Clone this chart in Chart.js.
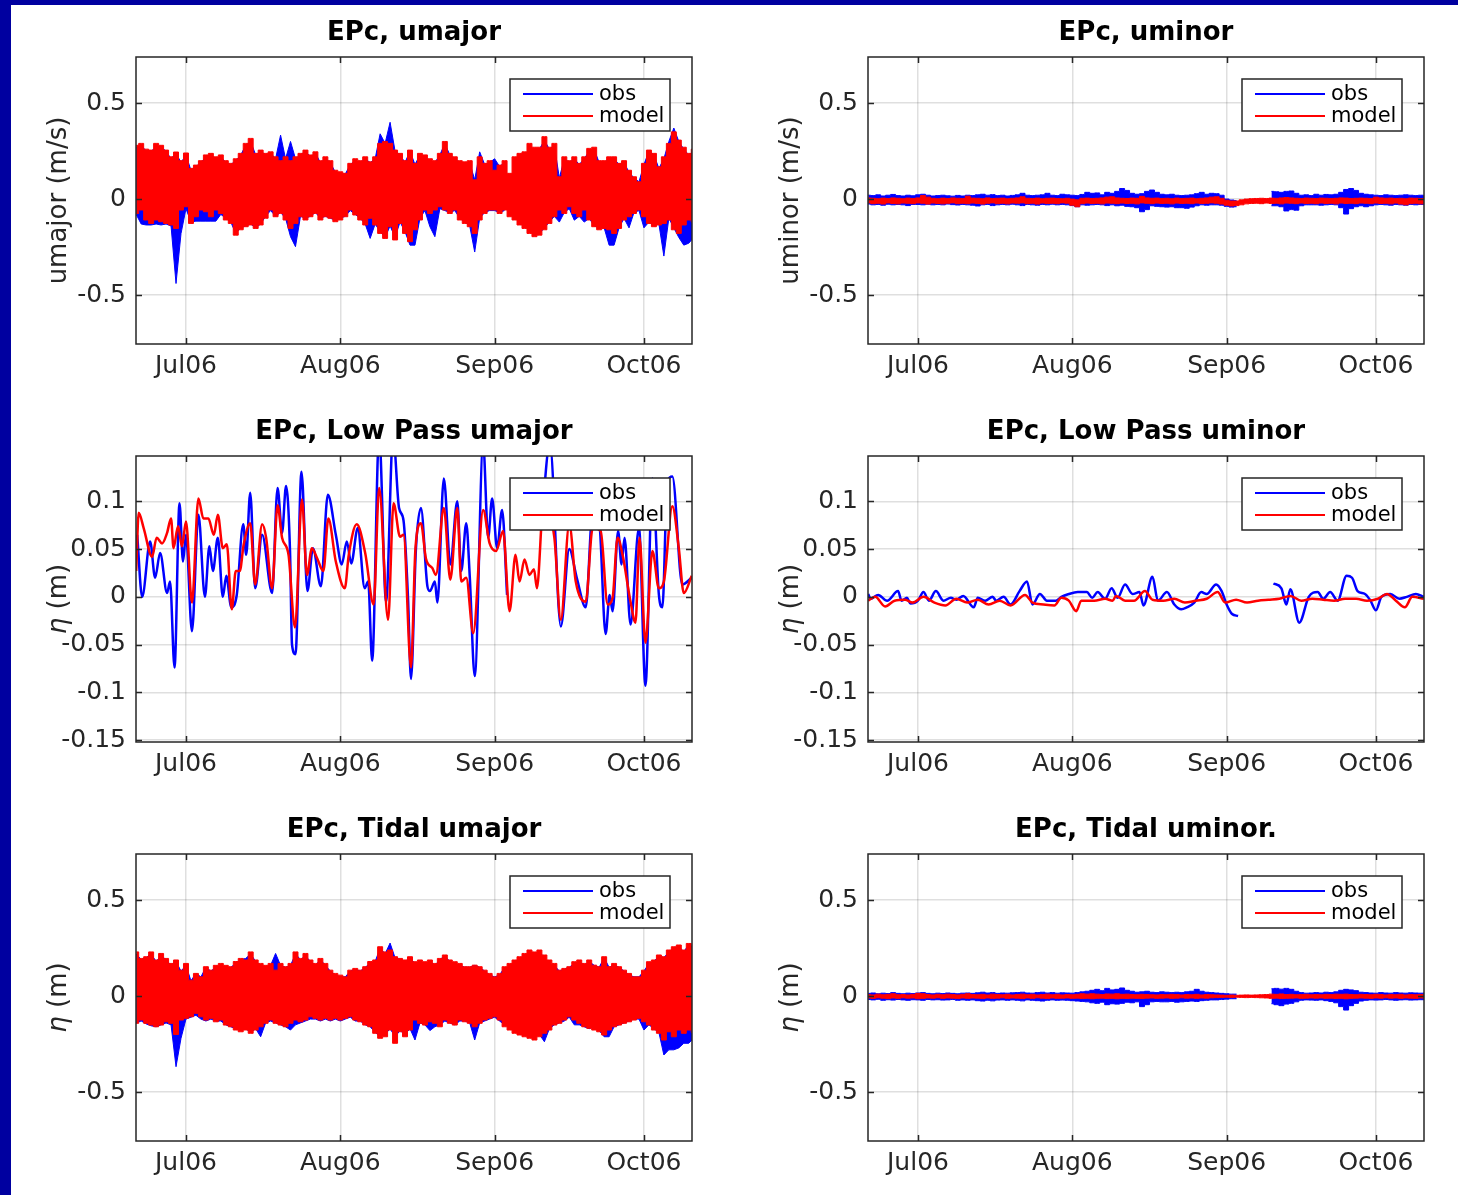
<!DOCTYPE html>
<html>
<head>
<meta charset="utf-8">
<script src="https://cdn.jsdelivr.net/npm/chart.js@4.4.1/dist/chart.umd.min.js"></script>
<style>
  body { margin: 0; width: 1458px; height: 1195px; background: #fff; position: relative; overflow: hidden; }
  .edge { position: absolute; background: #0000a0; }
  canvas { position: absolute; }
</style>
</head>
<body>
<div class="edge" style="left:0;top:0;width:11px;height:1195px"></div>
<div class="edge" style="left:0;top:0;width:1458px;height:5px"></div>
<script>
// ---- time axis: days from 1 Jul 2006 ----
const days = [];
for (let d = -10; d <= 102; d++) days.push(d);
const monthTicks = [0, 31, 62, 92];
const monthLabels = ['Jul06', 'Aug06', 'Sep06', 'Oct06'];

const wideTicks = [-0.5, 0, 0.5];
const lowPassTicks = [-0.15, -0.1, -0.05, 0, 0.05, 0.1];

// ---- EPc umajor (raw): daily upper / lower envelope of the tidal band ----
const umajModelHi = [
  0.28, 0.29, 0.26, 0.255, 0.29, 0.28, 0.255, 0.22, 0.245, 0.2,
  0.24, 0.16, 0.177, 0.2, 0.23, 0.238, 0.22, 0.23, 0.2, 0.186,
  0.21, 0.238, 0.29, 0.316, 0.238, 0.255, 0.238, 0.246, 0.22, 0.2,
  0.22, 0.2, 0.22, 0.238, 0.255, 0.23, 0.246, 0.2, 0.22, 0.2,
  0.15, 0.142, 0.134, 0.186, 0.21, 0.2, 0.22, 0.194, 0.22, 0.29,
  0.3, 0.29, 0.255, 0.238, 0.2, 0.255, 0.186, 0.238, 0.23, 0.21,
  0.2, 0.238, 0.3, 0.238, 0.22, 0.2, 0.194, 0.2, 0.1, 0.22,
  0.186, 0.2, 0.15, 0.177, 0.2, 0.134, 0.22, 0.238, 0.246, 0.29,
  0.27, 0.27, 0.325, 0.27, 0.29, 0.116, 0.22, 0.2, 0.22, 0.186,
  0.22, 0.264, 0.27, 0.2, 0.2, 0.22, 0.22, 0.186, 0.2, 0.15,
  0.116, 0.09, 0.186, 0.255, 0.238, 0.168, 0.22, 0.29, 0.35, 0.307,
  0.27, 0.238, 0.26
];
const umajModelLo = [
  -0.075, -0.057, -0.109, -0.127, -0.109, -0.118, -0.127, -0.135, -0.153, -0.057,
  -0.04, -0.127, -0.092, -0.057, -0.066, -0.092, -0.057, -0.075, -0.109, -0.127,
  -0.188, -0.16, -0.144, -0.135, -0.153, -0.135, -0.1, -0.057, -0.092, -0.075,
  -0.109, -0.153, -0.127, -0.092, -0.109, -0.092, -0.075, -0.109, -0.092, -0.1,
  -0.118, -0.109, -0.092, -0.057, -0.083, -0.109, -0.135, -0.1, -0.135, -0.179,
  -0.205, -0.144, -0.213, -0.127, -0.179, -0.222, -0.16, -0.109, -0.057, -0.075,
  -0.057, -0.04, -0.057, -0.075, -0.057, -0.109, -0.127, -0.144, -0.179, -0.109,
  -0.075, -0.057, -0.057, -0.075, -0.057, -0.092, -0.109, -0.135, -0.153, -0.179,
  -0.196, -0.188, -0.16, -0.127, -0.092, -0.057, -0.075, -0.04, -0.075, -0.092,
  -0.057, -0.109, -0.144, -0.16, -0.153, -0.16, -0.179, -0.153, -0.109, -0.092,
  -0.075, -0.057, -0.092, -0.127, -0.144, -0.135, -0.127, -0.109, -0.16, -0.179,
  -0.135, -0.109, -0.12
];
const umajObsHi = [
  0.27, 0.28, 0.25, 0.25, 0.27, 0.27, 0.25, 0.21, 0.24, 0.19,
  0.23, 0.15, 0.17, 0.19, 0.22, 0.23, 0.21, 0.22, 0.19, 0.18,
  0.2, 0.23, 0.28, 0.3, 0.23, 0.25, 0.23, 0.24, 0.21, 0.333,
  0.21, 0.3, 0.21, 0.23, 0.25, 0.22, 0.24, 0.19, 0.21, 0.19,
  0.14, 0.13, 0.13, 0.18, 0.2, 0.19, 0.21, 0.19, 0.21, 0.34,
  0.29, 0.40, 0.25, 0.23, 0.19, 0.25, 0.18, 0.23, 0.22, 0.2,
  0.19, 0.23, 0.29, 0.23, 0.21, 0.19, 0.19, 0.19, 0.1, 0.246,
  0.18, 0.19, 0.21, 0.17, 0.19, null, null, null, null, null,
  null, 0.26, 0.307, 0.26, 0.28, 0.11, 0.21, 0.19, 0.21, 0.18,
  0.21, 0.25, 0.26, 0.19, 0.19, 0.21, 0.21, 0.18, 0.19, 0.14,
  0.11, 0.09, 0.18, 0.25, 0.23, 0.16, 0.21, 0.3, 0.37, 0.3,
  0.26, 0.23, 0.25
];
const umajObsLo = [
  -0.08, -0.13, -0.135, -0.135, -0.13, -0.135, -0.13, -0.14, -0.44, -0.18,
  -0.05, -0.12, -0.115, -0.115, -0.115, -0.115, -0.115, -0.08, -0.1, -0.12,
  -0.18, -0.15, -0.14, -0.13, -0.15, -0.13, -0.09, -0.06, -0.09, -0.07,
  -0.1, -0.196, -0.248, -0.09, -0.1, -0.09, -0.07, -0.1, -0.09, -0.1,
  -0.11, -0.1, -0.09, -0.06, -0.08, -0.1, -0.13, -0.205, -0.13, -0.17,
  -0.2, -0.14, -0.2, -0.12, -0.17, -0.24, -0.24, -0.1, -0.06, -0.144,
  -0.196, -0.05, -0.06, -0.07, -0.06, -0.1, -0.12, -0.14, -0.276, -0.1,
  -0.07, -0.06, -0.06, -0.07, -0.06, null, null, null, null, null,
  null, -0.18, -0.15, -0.12, -0.09, -0.12, -0.07, -0.05, -0.11, -0.09,
  -0.12, -0.1, -0.14, -0.15, -0.15, -0.24, -0.24, -0.15, -0.1, -0.15,
  -0.07, -0.06, -0.15, -0.12, -0.14, -0.13, -0.297, -0.1, -0.15, -0.2,
  -0.24, -0.23, -0.2
];

// ---- EPc uminor (raw) ----
const uminModelHi = [
  0.006, 0.004, 0.002, 0.005, 0.003, 0.006, 0.004, 0.002, 0.005, 0.003,
  0.006, 0.018, 0.01, 0.004, 0.002, 0.005, 0.003, 0.006, 0.004, 0.003,
  0.015, 0.005, 0.004, 0.002, 0.006, 0.003, 0.004, 0.005, 0.002, 0.004,
  0.006, 0.012, 0.004, 0.003, 0.005, 0.002, 0.004, 0.005, 0.003, 0.002,
  0.004, 0.0, -0.004, 0.004, 0.005, 0.003, 0.004, 0.006, 0.01, 0.012,
  0.006, 0.004, 0.003, 0.005, 0.004, 0.014, 0.006, 0.004, 0.005, 0.003,
  0.004, 0.002, 0.005, 0.003, 0.004, 0.005, 0.002, 0.004, 0.006, 0.01,
  0.012, 0.004, -0.006, -0.01, -0.01, -0.004, 0.0, 0.002, 0.003, 0.004,
  0.003, 0.005, 0.004, 0.006, 0.008, 0.006, 0.004, 0.003, 0.005, 0.004,
  0.003, 0.005, 0.004, 0.003, 0.004, 0.006, 0.005, 0.003, 0.004, 0.005,
  0.004, 0.003, 0.01, 0.006, 0.004, 0.005, 0.003, 0.004, 0.002, 0.005,
  0.004, 0.003, 0.004
];
const uminModelLo = [
  -0.02, -0.024, -0.022, -0.026, -0.02, -0.023, -0.025, -0.021, -0.022, -0.024,
  -0.02, -0.022, -0.026, -0.021, -0.023, -0.025, -0.022, -0.02, -0.024, -0.022,
  -0.024, -0.021, -0.023, -0.026, -0.022, -0.02, -0.024, -0.022, -0.025, -0.021,
  -0.022, -0.02, -0.024, -0.022, -0.026, -0.021, -0.023, -0.022, -0.024, -0.02,
  -0.022, -0.032, -0.04, -0.024, -0.021, -0.023, -0.022, -0.025, -0.021, -0.022,
  -0.024, -0.021, -0.023, -0.022, -0.025, -0.02, -0.022, -0.024, -0.021, -0.023,
  -0.022, -0.025, -0.021, -0.023, -0.022, -0.024, -0.021, -0.023, -0.022, -0.02,
  -0.022, -0.026, -0.032, -0.036, -0.034, -0.03, -0.025, -0.023, -0.022, -0.024,
  -0.021, -0.023, -0.022, -0.025, -0.021, -0.022, -0.024, -0.021, -0.023, -0.022,
  -0.024, -0.021, -0.023, -0.022, -0.025, -0.021, -0.023, -0.022, -0.024, -0.021,
  -0.022, -0.024, -0.021, -0.023, -0.022, -0.025, -0.021, -0.026, -0.03, -0.024,
  -0.022, -0.025, -0.023
];
const uminObsHi = [
  0.02, 0.018, 0.022, 0.016, 0.02, 0.024, 0.018, 0.016, 0.02, 0.017,
  0.022, 0.025, 0.02, 0.016, 0.018, 0.02, 0.017, 0.015, 0.019, 0.016,
  0.02, 0.018, 0.022, 0.025, 0.02, 0.023, 0.018, 0.02, 0.016, 0.019,
  0.022, 0.03, 0.02, 0.018, 0.02, 0.022, 0.03, 0.02, 0.018, 0.025,
  0.022, 0.02, 0.018, 0.024, 0.035, 0.03, 0.032, 0.022, 0.035, 0.03,
  0.04, 0.055, 0.045, 0.03, 0.025, 0.028, 0.04, 0.047, 0.035, 0.025,
  0.022, 0.025, 0.02, 0.018, 0.02, 0.022, 0.028, 0.035, 0.025, 0.03,
  0.028, 0.02, 0.0, -0.005, -0.008, null, null, null, null, null,
  null, 0.04, 0.038, 0.035, 0.04, 0.042, 0.03, 0.02, 0.022, 0.018,
  0.025, 0.02, 0.024, 0.022, 0.025, 0.035, 0.05, 0.055, 0.045, 0.03,
  0.025, 0.022, 0.02, 0.018, 0.022, 0.02, 0.018, 0.02, 0.022, 0.02,
  0.018, 0.02, 0.019
];
const uminObsLo = [
  -0.026, -0.03, -0.028, -0.032, -0.027, -0.03, -0.028, -0.03, -0.034, -0.028,
  -0.028, -0.03, -0.027, -0.03, -0.028, -0.03, -0.026, -0.029, -0.031, -0.028,
  -0.03, -0.032, -0.036, -0.03, -0.028, -0.034, -0.03, -0.028, -0.03, -0.027,
  -0.03, -0.034, -0.028, -0.03, -0.032, -0.028, -0.03, -0.027, -0.03, -0.028,
  -0.03, -0.034, -0.04, -0.03, -0.032, -0.03, -0.028, -0.03, -0.034, -0.03,
  -0.035, -0.032, -0.038, -0.04, -0.045, -0.066, -0.055, -0.035, -0.038, -0.04,
  -0.042, -0.04, -0.045, -0.045, -0.048, -0.042, -0.035, -0.03, -0.032, -0.03,
  -0.03, -0.032, -0.038, -0.042, -0.04, null, null, null, null, null,
  null, -0.035, -0.035, -0.04, -0.062, -0.055, -0.058, -0.035, -0.03, -0.03,
  -0.03, -0.032, -0.03, -0.028, -0.03, -0.045, -0.078, -0.05, -0.04, -0.035,
  -0.04, -0.035, -0.03, -0.028, -0.03, -0.032, -0.028, -0.03, -0.032, -0.028,
  -0.03, -0.028, -0.029
];

// ---- EPc low pass umajor / uminor: [day, value] read at turning points ----
const lpMajObs = [
  [-9.8, 0.065], [-8.8, 0.0], [-7.2, 0.058], [-6.2, 0.02], [-5.2, 0.046], [-3.8, 0.004], [-3.2, 0.016],
  [-2.3, -0.074], [-1.3, 0.098], [-0.6, 0.037], [0, 0.065], [1.2, -0.036], [2.5, 0.086], [3.8, 0.0],
  [4.7, 0.053], [5.4, 0.027], [6.4, 0.062], [7.4, 0.0], [8.1, 0.022], [9.1, -0.011], [10.2, 0.002],
  [11.5, 0.076], [12.1, 0.044], [12.9, 0.109], [13.9, 0.009], [15.3, 0.065], [17.3, 0.004], [18.4, 0.114],
  [19.3, 0.067], [20.1, 0.116], [20.9, 0.048], [21.3, -0.05], [22.0, -0.06], [23.2, 0.131], [24.4, 0.006],
  [25.5, 0.051], [27.1, 0.011], [28.5, 0.107], [30.1, 0.065], [31.3, 0.034], [32.3, 0.058], [33.2, 0.035],
  [34.5, 0.072], [35.9, 0.009], [36.6, 0.016], [37.4, -0.067], [38.8, 0.17], [40.2, -0.005], [41.6, 0.17],
  [42.8, 0.093], [43.7, 0.08], [44.6, -0.001], [45.2, -0.086], [46.2, 0.051], [47.2, 0.093], [48.5, 0.011],
  [49.0, 0.006], [50.0, 0.016], [50.5, -0.006], [51.8, 0.124], [53.1, 0.034], [54.5, 0.1], [55.3, 0.027],
  [56.3, 0.077], [57.0, 0.022], [58.0, -0.083], [59.7, 0.16], [60.7, 0.062], [61.5, 0.103], [62.5, 0.051],
  [63.5, 0.091], [64.5, 0.002], [68, null], [71.3, 0.07], [73.1, 0.16], [75.3, -0.031], [77.0, 0.05],
  [78.5, 0.02], [80.3, -0.011], [81.7, 0.09], [83.0, 0.08], [84.3, -0.039], [85.1, 0.002], [85.7, -0.015],
  [86.8, 0.069], [87.5, 0.034], [88.1, 0.062], [89.3, -0.029], [91.0, 0.072], [92.3, -0.093], [93.7, 0.124],
  [95.0, 0.002], [95.7, -0.011], [96.7, 0.121], [97.7, 0.126], [99.7, 0.013], [101.6, 0.02]
];
const lpMajModel = [
  [-10, 0.027], [-9.5, 0.088], [-8.5, 0.072], [-6.8, 0.042], [-5.9, 0.062], [-4.8, 0.056], [-3.8, 0.067],
  [-3.0, 0.082], [-2.5, 0.051], [-1.6, 0.074], [-0.8, 0.053], [0, 0.079], [1.2, -0.006], [2.5, 0.103],
  [3.5, 0.082], [4.5, 0.082], [5.6, 0.065], [6.4, 0.086], [7.4, 0.051], [8.2, 0.055], [9.2, -0.013],
  [10.0, 0.027], [10.8, 0.027], [11.6, 0.055], [12.9, 0.077], [13.9, 0.013], [15.3, 0.076], [16.1, 0.062],
  [17.3, 0.009], [18.4, 0.096], [19.3, 0.062], [20.6, 0.044], [21.9, -0.032], [23.3, 0.102], [24.3, 0.023],
  [25.3, 0.051], [26.3, 0.041], [27.6, 0.027], [28.6, 0.082], [30.1, 0.037], [31.9, 0.009], [32.7, 0.044],
  [34.3, 0.076], [36.0, 0.046], [37.7, -0.008], [38.8, 0.114], [40.6, -0.024], [41.7, 0.098], [43.0, 0.063],
  [43.7, 0.065], [45.2, -0.074], [46.1, 0.051], [47.2, 0.077], [48.2, 0.04], [49.5, 0.03], [50.2, 0.023],
  [51.8, 0.093], [53.1, 0.018], [54.5, 0.093], [55.3, 0.016], [56.3, 0.02], [57.7, -0.038], [59.7, 0.091],
  [61.0, 0.056], [62.3, 0.048], [63.7, 0.069], [65.0, -0.015], [66.2, 0.044], [67.0, 0.016], [68.0, 0.039],
  [69.0, 0.023], [69.9, 0.029], [70.5, 0.009], [71.8, 0.096], [74.0, 0.062], [75.3, -0.024], [77.0, 0.076],
  [78.3, 0.016], [80.3, -0.005], [81.7, 0.072], [83.3, 0.069], [84.7, -0.008], [85.7, -0.001], [86.7, 0.062],
  [87.7, 0.044], [89.3, -0.005], [90.3, -0.027], [91.1, 0.062], [92.3, -0.048], [93.7, 0.048], [95.0, 0.009],
  [96.0, 0.016], [97.7, 0.095], [99.0, 0.051], [100.0, 0.004], [101.6, 0.022]
];
const lpMinObs = [
  [-10, 0.003], [-9.5, -0.002], [-8.0, 0.002], [-6.2, -0.004], [-4.0, 0.006], [-3.3, -0.004], [-2.2, -0.001],
  [-1.5, -0.007], [0, -0.004], [1.1, 0.005], [2.2, -0.004], [3.6, 0.006], [5.1, -0.004], [6.6, -0.001],
  [7.7, -0.003], [9.1, 0.001], [11.2, -0.011], [12.0, -0.001], [13.5, -0.004], [15.0, 0.0], [15.7, -0.004],
  [17.2, 0.0], [18.6, -0.008], [20.4, 0.006], [21.9, 0.016], [23.0, -0.008], [24.5, 0.003], [25.9, -0.004],
  [27.7, -0.004], [28.8, 0.0], [30.3, 0.003], [32.1, 0.005], [33.9, 0.005], [35.0, -0.001], [36.1, 0.005],
  [37.6, -0.002], [38.9, 0.009], [40.1, -0.001], [41.6, 0.013], [43.1, 0.003], [44.5, 0.005], [45.3, -0.009],
  [47.1, 0.021], [48.2, -0.004], [50.0, 0.005], [51.5, -0.008], [52.9, -0.013], [54.0, -0.011], [55.5, -0.006],
  [56.9, 0.005], [58.0, 0.003], [59.9, 0.013], [61.0, 0.006], [62.0, -0.008], [63.1, -0.018], [64.3, -0.02],
  [67, null], [71.4, 0.014], [73.0, 0.009], [74.0, -0.008], [74.8, 0.008], [76.6, -0.027], [78.5, 0.0],
  [80.3, 0.005], [81.4, -0.002], [82.8, 0.005], [84.3, -0.004], [86.1, 0.022], [87.2, 0.02], [88.3, 0.006],
  [89.8, 0.003], [90.9, -0.004], [92.0, -0.014], [93.1, 0.0], [94.9, 0.003], [96.7, -0.002], [98.2, 0.0],
  [100.0, 0.003], [101.6, 0.0]
];
const lpMinModel = [
  [-10, -0.004], [-8.6, 0.0], [-6.6, -0.01], [-4.7, -0.004], [-2.6, -0.003], [-1.1, -0.006], [1.1, 0.0],
  [3.3, -0.006], [5.5, -0.009], [7.7, -0.002], [9.9, -0.006], [12.0, -0.003], [14.2, -0.008], [16.4, -0.004],
  [18.6, -0.009], [21.5, 0.002], [23.0, -0.006], [25.2, -0.008], [27.4, -0.009], [28.8, -0.001], [30.3, -0.004],
  [31.8, -0.015], [32.8, -0.004], [35.4, -0.004], [37.6, -0.002], [39.1, -0.004], [39.8, 0.001], [41.6, -0.004],
  [43.4, -0.004], [45.6, 0.006], [47.1, -0.003], [49.3, -0.004], [51.5, -0.002], [53.6, -0.006], [55.8, -0.004],
  [58.0, -0.002], [60.2, 0.005], [61.7, -0.006], [63.9, -0.003], [66.1, -0.006], [68.3, -0.004], [70.4, -0.003],
  [72.6, -0.002], [74.8, 0.001], [77.0, -0.004], [79.2, -0.002], [81.4, -0.003], [83.6, -0.004], [85.8, -0.002],
  [88.0, -0.002], [90.2, -0.004], [92.4, -0.002], [94.2, 0.003], [96.0, -0.004], [97.8, -0.011], [99.3, 0.0],
  [101.6, -0.002]
];

// ---- EPc tidal umajor ----
const tidMajModelHi = [
  0.23, 0.196, 0.205, 0.23, 0.188, 0.222, 0.196, 0.17, 0.188, 0.135,
  0.17, 0.083, 0.118, 0.1, 0.153, 0.135, 0.16, 0.17, 0.16, 0.153,
  0.18, 0.196, 0.188, 0.23, 0.188, 0.17, 0.16, 0.17, 0.135, 0.17,
  0.153, 0.17, 0.23, 0.196, 0.222, 0.188, 0.17, 0.196, 0.17, 0.135,
  0.118, 0.109, 0.1, 0.135, 0.144, 0.135, 0.153, 0.18, 0.188, 0.257,
  0.23, 0.24, 0.205, 0.196, 0.188, 0.205, 0.179, 0.188, 0.179, 0.188,
  0.17, 0.196, 0.214, 0.188, 0.179, 0.17, 0.153, 0.153, 0.161, 0.153,
  0.135, 0.118, 0.1, 0.118, 0.153, 0.17, 0.188, 0.205, 0.222, 0.24,
  0.23, 0.24, 0.214, 0.188, 0.17, 0.135, 0.144, 0.153, 0.179, 0.188,
  0.17, 0.188, 0.161, 0.153, 0.205, 0.153, 0.17, 0.153, 0.135, 0.118,
  0.1, 0.1, 0.135, 0.179, 0.188, 0.214, 0.205, 0.24, 0.257, 0.266,
  0.24, 0.274, 0.26
];
const tidMajModelLo = [
  -0.142, -0.125, -0.142, -0.151, -0.16, -0.151, -0.134, -0.142, -0.2, -0.125,
  -0.116, -0.108, -0.09, -0.108, -0.125, -0.116, -0.134, -0.125, -0.151, -0.16,
  -0.177, -0.186, -0.177, -0.194, -0.177, -0.16, -0.142, -0.125, -0.142, -0.151,
  -0.16, -0.142, -0.125, -0.134, -0.125, -0.108, -0.116, -0.125, -0.116, -0.125,
  -0.116, -0.125, -0.116, -0.108, -0.125, -0.134, -0.151, -0.16, -0.194, -0.22,
  -0.212, -0.177, -0.246, -0.186, -0.212, -0.177, -0.125, -0.142, -0.151, -0.134,
  -0.142, -0.16, -0.125, -0.142, -0.151, -0.125, -0.134, -0.142, -0.16, -0.142,
  -0.125, -0.116, -0.108, -0.125, -0.16, -0.177, -0.194, -0.203, -0.212, -0.22,
  -0.229, -0.212, -0.194, -0.177, -0.151, -0.142, -0.125, -0.108, -0.125, -0.142,
  -0.16, -0.168, -0.177, -0.186, -0.203, -0.177, -0.16, -0.151, -0.142, -0.134,
  -0.125, -0.116, -0.134, -0.151, -0.177, -0.194, -0.229, -0.186, -0.212, -0.177,
  -0.194, -0.177, -0.19
];
const tidMajObsHi = [
  0.22, 0.19, 0.2, 0.22, 0.18, 0.21, 0.19, 0.16, 0.18, 0.13,
  0.16, 0.08, 0.118, 0.1, 0.15, 0.13, 0.15, 0.16, 0.15, 0.15,
  0.17, 0.19, 0.196, 0.22, 0.18, 0.16, 0.15, 0.16, 0.222, 0.16,
  0.15, 0.16, 0.22, 0.19, 0.21, 0.18, 0.16, 0.19, 0.16, 0.13,
  0.11, 0.1, 0.1, 0.13, 0.14, 0.13, 0.15, 0.17, 0.18, 0.25,
  0.22, 0.276, 0.2, 0.19, 0.18, 0.2, 0.17, 0.18, 0.17, 0.18,
  0.16, 0.19, 0.21, 0.18, 0.17, 0.16, 0.15, 0.15, 0.16, 0.15,
  0.13, 0.11, 0.1, 0.11, 0.15, null, null, null, null, null,
  null, 0.23, 0.2, 0.15, 0.16, 0.13, 0.14, 0.15, 0.17, 0.18,
  0.16, 0.18, 0.16, 0.15, 0.2, 0.15, 0.16, 0.15, 0.13, 0.11,
  0.1, 0.1, 0.13, 0.17, 0.18, 0.21, 0.2, 0.23, 0.25, 0.26,
  0.23, 0.27, 0.25
];
const tidMajObsLo = [
  -0.14, -0.13, -0.145, -0.155, -0.16, -0.15, -0.14, -0.15, -0.368, -0.22,
  -0.12, -0.11, -0.1, -0.12, -0.13, -0.12, -0.13, -0.13, -0.15, -0.16,
  -0.17, -0.18, -0.17, -0.19, -0.17, -0.212, -0.14, -0.13, -0.14, -0.15,
  -0.16, -0.177, -0.15, -0.14, -0.13, -0.12, -0.12, -0.13, -0.12, -0.13,
  -0.12, -0.13, -0.12, -0.11, -0.13, -0.13, -0.15, -0.16, -0.19, -0.21,
  -0.2, -0.17, -0.212, -0.18, -0.2, -0.17, -0.229, -0.14, -0.15, -0.18,
  -0.16, -0.15, -0.13, -0.14, -0.15, -0.13, -0.13, -0.14, -0.229, -0.14,
  -0.13, -0.12, -0.11, -0.13, -0.15, null, null, null, null, null,
  null, -0.2, -0.238, -0.17, -0.15, -0.14, -0.13, -0.11, -0.15, -0.15,
  -0.16, -0.17, -0.16, -0.18, -0.212, -0.212, -0.16, -0.15, -0.14, -0.13,
  -0.12, -0.12, -0.177, -0.15, -0.17, -0.19, -0.307, -0.28, -0.28, -0.27,
  -0.246, -0.246, -0.22
];

// ---- EPc tidal uminor ----
const tidMinModelHi = [
  0.008, 0.006, 0.01, 0.007, 0.009, 0.012, 0.007, 0.008, 0.006, 0.009,
  0.014, 0.012, 0.008, 0.006, 0.009, 0.007, 0.01, 0.008, 0.006, 0.009,
  0.012, 0.008, 0.007, 0.009, 0.006, 0.01, 0.008, 0.007, 0.009, 0.006,
  0.008, 0.01, 0.007, 0.009, 0.006, 0.008, 0.01, 0.007, 0.009, 0.006,
  0.008, 0.007, 0.009, 0.012, 0.01, 0.012, 0.01, 0.008, 0.011, 0.01,
  0.012, 0.009, 0.01, 0.008, 0.007, 0.009, 0.008, 0.007, 0.006, 0.008,
  0.007, 0.009, 0.008, 0.006, 0.008, 0.007, 0.009, 0.006, 0.008, 0.007,
  0.006, 0.005, 0.004, 0.005, 0.004, 0.005, 0.006, 0.005, 0.006, 0.007,
  0.008, 0.01, 0.009, 0.011, 0.008, 0.009, 0.007, 0.008, 0.009, 0.007,
  0.008, 0.007, 0.009, 0.008, 0.01, 0.009, 0.01, 0.008, 0.007, 0.009,
  0.008, 0.007, 0.009, 0.008, 0.006, 0.008, 0.007, 0.009, 0.006, 0.008,
  0.007, 0.008, 0.007
];
const tidMinModelLo = [
  -0.01, -0.012, -0.009, -0.011, -0.013, -0.01, -0.012, -0.009, -0.011, -0.01,
  -0.014, -0.012, -0.01, -0.011, -0.009, -0.012, -0.01, -0.011, -0.013, -0.01,
  -0.012, -0.01, -0.011, -0.013, -0.01, -0.012, -0.011, -0.009, -0.012, -0.01,
  -0.011, -0.013, -0.01, -0.012, -0.009, -0.011, -0.013, -0.01, -0.012, -0.011,
  -0.01, -0.012, -0.011, -0.013, -0.012, -0.014, -0.012, -0.011, -0.013, -0.012,
  -0.014, -0.012, -0.013, -0.011, -0.012, -0.013, -0.011, -0.01, -0.012, -0.011,
  -0.01, -0.012, -0.011, -0.009, -0.011, -0.01, -0.012, -0.01, -0.011, -0.009,
  -0.008, -0.007, -0.006, -0.007, -0.006, -0.007, -0.008, -0.007, -0.008, -0.009,
  -0.01, -0.012, -0.011, -0.013, -0.012, -0.011, -0.01, -0.012, -0.011, -0.01,
  -0.011, -0.01, -0.012, -0.011, -0.013, -0.012, -0.014, -0.012, -0.011, -0.01,
  -0.011, -0.012, -0.01, -0.011, -0.009, -0.011, -0.01, -0.012, -0.01, -0.011,
  -0.012, -0.01, -0.011
];
const tidMinObsHi = [
  0.014, 0.016, 0.012, 0.015, 0.013, 0.018, 0.014, 0.012, 0.015, 0.013,
  0.016, 0.018, 0.014, 0.012, 0.015, 0.013, 0.016, 0.014, 0.012, 0.015,
  0.016, 0.014, 0.017, 0.02, 0.016, 0.018, 0.014, 0.016, 0.015, 0.017,
  0.018, 0.02, 0.016, 0.015, 0.018, 0.02, 0.016, 0.018, 0.015, 0.017,
  0.016, 0.015, 0.018, 0.022, 0.025, 0.03, 0.035, 0.028, 0.04, 0.032,
  0.035, 0.042, 0.03, 0.025, 0.02, 0.022, 0.025, 0.02, 0.018, 0.022,
  0.02, 0.018, 0.02, 0.018, 0.022, 0.025, 0.035, 0.025, 0.02, 0.018,
  0.016, 0.014, 0.012, 0.01, 0.01, null, null, null, null, null,
  null, 0.038, 0.04, 0.036, 0.04, 0.035, 0.025, 0.018, 0.015, 0.016,
  0.018, 0.016, 0.02, 0.018, 0.022, 0.03, 0.035, 0.032, 0.028, 0.02,
  0.018, 0.016, 0.015, 0.018, 0.016, 0.015, 0.018, 0.016, 0.015, 0.017,
  0.016, 0.015, 0.016
];
const tidMinObsLo = [
  -0.018, -0.02, -0.017, -0.022, -0.019, -0.021, -0.018, -0.02, -0.022, -0.019,
  -0.02, -0.022, -0.018, -0.02, -0.019, -0.021, -0.02, -0.018, -0.022, -0.02,
  -0.022, -0.02, -0.024, -0.026, -0.022, -0.025, -0.021, -0.02, -0.022, -0.02,
  -0.022, -0.025, -0.02, -0.022, -0.024, -0.026, -0.022, -0.02, -0.022, -0.021,
  -0.022, -0.024, -0.026, -0.028, -0.03, -0.035, -0.038, -0.032, -0.045, -0.04,
  -0.042, -0.038, -0.032, -0.035, -0.03, -0.055, -0.045, -0.03, -0.028, -0.03,
  -0.03, -0.028, -0.032, -0.03, -0.028, -0.026, -0.028, -0.024, -0.022, -0.02,
  -0.02, -0.018, -0.016, -0.014, -0.014, null, null, null, null, null,
  null, -0.04, -0.045, -0.05, -0.042, -0.038, -0.03, -0.022, -0.02, -0.021,
  -0.022, -0.02, -0.024, -0.028, -0.035, -0.055, -0.073, -0.05, -0.038, -0.026,
  -0.022, -0.02, -0.021, -0.02, -0.018, -0.02, -0.022, -0.02, -0.019, -0.021,
  -0.02, -0.019, -0.02
];

// ---------------------------------------------------------------------------
const FONT = '"DejaVu Sans", "Liberation Sans", Arial, sans-serif';
const AXIS = '#262626';
const GRID = 'rgba(38,38,38,0.15)';
const BLUE = '#0000ff';
const RED = '#ff0000';

// box, inward ticks, centred title, y label and boxed legend, MATLAB style
const matlabAxes = {
  id: 'matlabAxes',
  afterDatasetsDraw(chart, args, opts) {
    const ctx = chart.ctx;
    const a = chart.chartArea;
    const xs = chart.scales.x, ys = chart.scales.y;
    ctx.save();
    ctx.strokeStyle = AXIS;
    ctx.lineWidth = 1.5;
    ctx.beginPath();
    xs.ticks.forEach(t => {
      const px = Math.round(xs.getPixelForValue(t.value)) + 0.5;
      ctx.moveTo(px, a.bottom); ctx.lineTo(px, a.bottom - 6);
      ctx.moveTo(px, a.top); ctx.lineTo(px, a.top + 6);
    });
    ys.ticks.forEach(t => {
      const py = Math.round(ys.getPixelForValue(t.value)) + 0.5;
      ctx.moveTo(a.left, py); ctx.lineTo(a.left + 6, py);
      ctx.moveTo(a.right, py); ctx.lineTo(a.right - 6, py);
    });
    ctx.stroke();
    ctx.strokeRect(a.left, a.top, a.right - a.left, a.bottom - a.top);

    // legend
    const bw = 160, bh = 52;
    const bx = a.right - 22 - bw, by = a.top + 22;
    ctx.fillStyle = '#fff';
    ctx.fillRect(bx, by, bw, bh);
    ctx.strokeStyle = AXIS;
    ctx.lineWidth = 1.5;
    ctx.strokeRect(bx, by, bw, bh);
    ctx.font = '21px ' + FONT;
    ctx.textBaseline = 'middle';
    ctx.textAlign = 'left';
    opts.legend.forEach((name, i) => {
      const ds = chart.data.datasets.find(d => d.label === name);
      const ly = by + 15 + i * 22;
      ctx.strokeStyle = ds.borderColor;
      ctx.lineWidth = 2;
      ctx.beginPath();
      ctx.moveTo(bx + 13, ly); ctx.lineTo(bx + 83, ly);
      ctx.stroke();
      ctx.fillStyle = '#000';
      ctx.fillText(name, bx + 89, ly + 1);
    });

    // title
    ctx.font = 'bold 26px ' + FONT;
    ctx.textAlign = 'center';
    ctx.fillStyle = '#000';
    ctx.fillText(opts.title, (a.left + a.right) / 2, a.top - 24);

    // y label (pieces so that eta can be italic)
    ctx.translate(a.left - 77, (a.top + a.bottom) / 2);
    ctx.rotate(-Math.PI / 2);
    ctx.fillStyle = AXIS;
    const fontOf = p => (p.italic ? 'italic ' : '') + '26px ' + FONT;
    let total = 0;
    opts.ylabel.forEach(p => { ctx.font = fontOf(p); total += ctx.measureText(p.text).width; });
    let cx = -total / 2;
    ctx.textAlign = 'left';
    opts.ylabel.forEach(p => {
      ctx.font = fontOf(p);
      ctx.fillText(p.text, cx, 0);
      cx += ctx.measureText(p.text).width;
    });
    ctx.restore();
  }
};

function bandPoints(vals) {
  return days.map((d, i) => ({ x: d, y: vals[i] }));
}
function readPoints(pairs) {
  return pairs.map(p => ({ x: p[0], y: p[1] }));
}

// obsStep: false draws the obs envelope as straight segments (thin spikes)
function bandSets(modelHi, modelLo, obsHi, obsLo, obsStep) {
  const base = { pointRadius: 0, borderWidth: 1, spanGaps: false };
  const os = obsStep ? 'middle' : false;
  return [
    Object.assign({ label: 'model', data: bandPoints(modelHi), borderColor: RED, backgroundColor: RED, fill: '+1', stepped: 'middle', order: 0 }, base),
    Object.assign({ label: 'model lo', data: bandPoints(modelLo), borderColor: RED, fill: false, stepped: 'middle', order: 0 }, base),
    Object.assign({ label: 'obs', data: bandPoints(obsHi), borderColor: BLUE, backgroundColor: BLUE, fill: '+1', stepped: os, order: 1 }, base),
    Object.assign({ label: 'obs lo', data: bandPoints(obsLo), borderColor: BLUE, fill: false, stepped: os, order: 1 }, base)
  ];
}
function lineSets(obs, model) {
  const base = { pointRadius: 0, borderWidth: 2.5, fill: false, cubicInterpolationMode: 'monotone', spanGaps: false };
  return [
    Object.assign({ label: 'model', data: readPoints(model), borderColor: RED, order: 0 }, base),
    Object.assign({ label: 'obs', data: readPoints(obs), borderColor: BLUE, order: 1 }, base)
  ];
}

const plotLeft = [136, 868];
const plotTop = [57, 456, 854];
const plotH = [287, 286, 287];
const plotW = 556;

const panels = [
  { col: 0, row: 0, title: 'EPc, umajor', ylabel: [{ text: 'umajor (m/s)' }], range: [-0.755, 0.74], ticks: wideTicks,
    sets: bandSets(umajModelHi, umajModelLo, umajObsHi, umajObsLo, false) },
  { col: 1, row: 0, title: 'EPc, uminor', ylabel: [{ text: 'uminor (m/s)' }], range: [-0.755, 0.74], ticks: wideTicks,
    sets: bandSets(uminModelHi, uminModelLo, uminObsHi, uminObsLo, true) },
  { col: 0, row: 1, title: 'EPc, Low Pass umajor', ylabel: [{ text: 'η', italic: true }, { text: ' (m)' }], range: [-0.152, 0.1475], ticks: lowPassTicks,
    sets: lineSets(lpMajObs, lpMajModel) },
  { col: 1, row: 1, title: 'EPc, Low Pass uminor', ylabel: [{ text: 'η', italic: true }, { text: ' (m)' }], range: [-0.152, 0.1475], ticks: lowPassTicks,
    sets: lineSets(lpMinObs, lpMinModel) },
  { col: 0, row: 2, title: 'EPc, Tidal umajor', ylabel: [{ text: 'η', italic: true }, { text: ' (m)' }], range: [-0.755, 0.74], ticks: wideTicks,
    sets: bandSets(tidMajModelHi, tidMajModelLo, tidMajObsHi, tidMajObsLo, false) },
  { col: 1, row: 2, title: 'EPc, Tidal uminor.', ylabel: [{ text: 'η', italic: true }, { text: ' (m)' }], range: [-0.755, 0.74], ticks: wideTicks,
    sets: bandSets(tidMinModelHi, tidMinModelLo, tidMinObsHi, tidMinObsLo, true) }
];

const LEFT_W = 110, TOP_H = 50, BOTTOM_H = 45, RIGHT_W = 20;

panels.forEach(p => {
  const cv = document.createElement('canvas');
  cv.width = LEFT_W + plotW + RIGHT_W;
  cv.height = TOP_H + plotH[p.row] + BOTTOM_H;
  cv.style.left = (plotLeft[p.col] - LEFT_W) + 'px';
  cv.style.top = (plotTop[p.row] - TOP_H) + 'px';
  document.body.appendChild(cv);

  new Chart(cv, {
    type: 'line',
    data: { datasets: p.sets },
    options: {
      responsive: false,
      animation: false,
      events: [],
      layout: { padding: { top: TOP_H, right: RIGHT_W, left: 0, bottom: 0 } },
      plugins: {
        legend: { display: false },
        tooltip: { enabled: false },
        matlabAxes: { title: p.title, ylabel: p.ylabel, legend: ['obs', 'model'] }
      },
      scales: {
        x: {
          type: 'linear',
          min: -10.04,
          max: 101.65,
          afterBuildTicks: s => { s.ticks = monthTicks.map(v => ({ value: v })); },
          afterFit: s => { s.height = BOTTOM_H; },
          border: { display: false },
          grid: { color: GRID, lineWidth: 1.5, drawTicks: false },
          ticks: {
            autoSkip: false, maxRotation: 0, padding: 7, color: AXIS,
            font: { family: FONT, size: 25 },
            callback: v => monthLabels[monthTicks.indexOf(v)] || ''
          }
        },
        y: {
          min: p.range[0],
          max: p.range[1],
          afterBuildTicks: s => { s.ticks = p.ticks.map(v => ({ value: v })); },
          afterFit: s => { s.width = LEFT_W; },
          border: { display: false },
          grid: { color: GRID, lineWidth: 1.5, drawTicks: false },
          ticks: {
            padding: 10, color: AXIS,
            font: { family: FONT, size: 25 },
            callback: v => String(+v.toFixed(2))
          }
        }
      }
    },
    plugins: [matlabAxes]
  });
});
</script>
</body>
</html>
